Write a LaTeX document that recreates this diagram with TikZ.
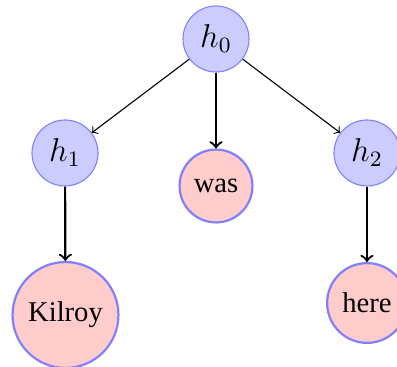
\documentclass[tikz,border=0pt]{standalone}
\usepackage{fontspec}
\setmainfont{Liberation Serif}
\begin{document}
\begin{tikzpicture}[x=0.3636pt,y=-0.3636pt,
  hidden/.style={circle,draw=blue!50,fill=blue!20,line width=0.4pt,minimum size=24pt,inner sep=0pt,font=\fontsize{11.5}{13}\selectfont},
  word/.style={circle,draw=blue!50,fill=red!20,line width=0.8pt,inner sep=0pt,font=\fontsize{10.4}{12}\selectfont},
  thin arrow/.style={->,line width=0.4pt},
  thick arrow/.style={->,line width=0.8pt}]
\useasboundingbox (0,0) rectangle (397,367);
\node[hidden] (h0) at (216,39) {$h_0$};
\node[hidden] (h1) at (65,153) {$h_1$};
\node[hidden] (h2) at (367,153) {$h_2$};
\node[word,minimum size=26.5pt] (was) at (216,186) {was};
\node[word,minimum size=38.5pt] (kilroy) at (65.5,315) {Kilroy};
\node[word,minimum size=29pt] (here) at (367,303) {here};
\draw[thin arrow] (h0) -- (h1);
\draw[thin arrow] (h0) -- (h2);
\draw[thick arrow] (h0) -- (was);
\draw[thick arrow] (h1) -- (kilroy);
\draw[thick arrow] (h2) -- (here);
\end{tikzpicture}
\end{document}
